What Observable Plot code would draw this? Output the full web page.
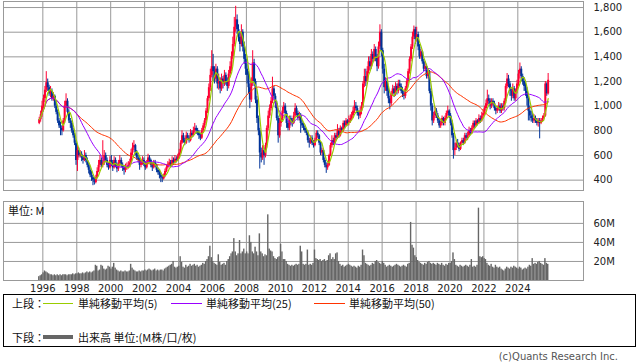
<!DOCTYPE html>
<html>
<head>
<meta charset="utf-8">
<script src="https://cdn.jsdelivr.net/npm/d3@7"></script>
<script src="https://cdn.jsdelivr.net/npm/@observablehq/plot@0.6"></script>
<style>
  html, body { margin: 0; padding: 0; background: #fff; }
  #wrap { position: relative; width: 638px; height: 362px; overflow: hidden; font-family: "DejaVu Sans", sans-serif; }
  #wrap svg { display: block; }
  #volBox { margin-top: 3px; }
  .abs { position: absolute; }
  .jp { font-family: "Noto Sans CJK JP", "DejaVu Sans", sans-serif; font-size: 11px; line-height: 14px; color: #111; white-space: nowrap; }
</style>
</head>
<body>
<div id="wrap">
  <div id="priceBox"></div>
  <div id="volBox"></div>
  <div class="abs jp" style="left:8px;top:203px;">単位: M</div>
  <div class="abs" style="left:3px;top:294px;width:633px;height:53px;border:1px solid #000;box-sizing:border-box;"></div>
  <div class="abs jp" style="left:12px;top:296px;">上段：</div>
  <div class="abs" style="left:43px;top:303px;width:30px;height:1px;background:#99cc00;"></div>
  <div class="abs jp" style="left:78px;top:296px;">単純移動平均(5)</div>
  <div class="abs" style="left:171px;top:303px;width:31px;height:1px;background:#9900ff;"></div>
  <div class="abs jp" style="left:206px;top:296px;">単純移動平均(25)</div>
  <div class="abs" style="left:314px;top:303px;width:31px;height:1px;background:#ff3300;"></div>
  <div class="abs jp" style="left:349px;top:296px;">単純移動平均(50)</div>
  <div class="abs jp" style="left:12px;top:330px;">下段：</div>
  <div class="abs" style="left:43px;top:335px;width:30px;height:4px;background:#666;"></div>
  <div class="abs jp" style="left:78px;top:330px;">出来高 単位:(M株/口/枚)</div>
  <div class="abs" style="right:20px;top:351px;font-size:10px;color:#555;font-family:'DejaVu Sans',sans-serif;">(c)Quants Research Inc.</div>
</div>
<script>
// Monthly candles, Oct 1995 .. Oct 2025
const firstYear = 1995, firstMonth = 9; // October (0-based)

const open = [
  860, 890, 930,
  1000, 1060, 1130, 1190, 1150, 1100, 1120, 1060, 1080, 1000, 950, 880,
  840, 820, 800, 880, 1000, 1040, 950, 880, 860, 800, 760, 700,
  560, 640, 600, 610, 580, 560, 600, 560, 520, 480, 440, 420,
  400, 380, 420, 470, 520, 560, 520, 540, 600, 560, 520, 500,
  560, 540, 500, 560, 520, 490, 530, 560, 520, 500, 480, 500,
  510, 520, 540, 620, 660, 680, 620, 580, 560, 520, 540, 560,
  530, 500, 540, 580, 560, 520, 500, 540, 520, 480, 460, 440,
  420, 410, 430, 470, 500, 520, 540, 520, 560, 540, 570, 560,
  590, 620, 700, 760, 720, 700, 760, 740, 720, 780, 760, 800,
  820, 800, 780, 760, 740, 800, 840, 880, 960, 1060, 1150, 1250,
  1320, 1280, 1220, 1300, 1180, 1200, 1140, 1220, 1180, 1250, 1200, 1160,
  1260, 1320, 1400, 1500, 1640, 1700, 1620, 1560, 1500, 1600, 1480, 1380,
  1300, 1250, 1150, 1050, 1200, 1350, 1200, 1050, 900, 800, 620, 580,
  640, 600, 680, 820, 920, 980, 1040, 1140, 1080, 1020, 900, 760,
  860, 900, 960, 1000, 940, 860, 820, 900, 880, 860, 920, 980,
  940, 900, 920, 860, 840, 820, 800, 780, 720, 700, 740, 700,
  680, 720, 780, 760, 700, 620, 640, 560, 520, 500, 520, 600,
  680, 720, 700, 760, 740, 800, 760, 820, 800, 860, 840, 880,
  860, 880, 900, 920, 960, 1000, 980, 940, 920, 960, 1000, 1180,
  1240, 1200, 1280, 1360, 1320, 1420, 1380, 1460, 1400, 1320, 1480, 1600,
  1450, 1300, 1150, 1200, 1120, 1060, 1020, 1100, 1140, 1100, 1160, 1120,
  1180, 1160, 1120, 1100, 1080, 1140, 1200, 1280, 1380, 1480, 1560, 1620,
  1540, 1580, 1480, 1400, 1440, 1360, 1300, 1320, 1240, 1280, 1120, 1000,
  880, 920, 960, 920, 880, 840, 860, 900, 860, 900, 940, 960,
  920, 860, 760, 640, 660, 700, 680, 650, 700, 720, 700, 760,
  740, 760, 800, 780, 820, 860, 840, 880, 860, 900, 880, 920,
  940, 980, 1020, 1060, 1040, 1000, 1040, 1020, 980, 960, 980, 1000,
  960, 1000, 980, 1040, 1160, 1220, 1180, 1120, 1080, 1140, 1060, 1120,
  1180, 1260, 1300, 1240, 1200, 1160, 1120, 1060, 960, 920, 900, 880,
  900, 880, 860, 880, 860, 880, 900, 920, 1180, 1100
];
const high = [
  910, 960, 1040,
  1090, 1160, 1280, 1220, 1170, 1160, 1140, 1110, 1090, 1020, 970, 900,
  870, 840, 900, 1040, 1100, 1060, 970, 900, 880, 820, 780, 720,
  680, 660, 640, 630, 600, 640, 620, 580, 540, 500, 470, 440,
  420, 440, 500, 560, 600, 580, 720, 640, 620, 580, 540, 590,
  600, 560, 590, 580, 540, 560, 600, 580, 540, 520, 530, 540,
  550, 570, 650, 700, 720, 690, 640, 600, 580, 570, 590, 580,
  550, 560, 610, 600, 570, 540, 560, 560, 530, 500, 480, 460,
  440, 450, 490, 520, 550, 570, 560, 590, 580, 600, 590, 610,
  650, 720, 800, 780, 740, 790, 780, 760, 810, 800, 830, 860,
  840, 820, 800, 780, 820, 860, 900, 980, 1080, 1180, 1300, 1450,
  1420, 1320, 1340, 1320, 1260, 1230, 1260, 1240, 1290, 1270, 1230, 1290,
  1360, 1440, 1560, 1720, 1810, 1740, 1660, 1600, 1660, 1620, 1520, 1420,
  1340, 1280, 1180, 1230, 1450, 1380, 1220, 1080, 920, 820, 660, 680,
  660, 700, 840, 960, 1010, 1070, 1235, 1160, 1100, 1040, 920, 900,
  940, 990, 1030, 1020, 960, 880, 920, 920, 900, 950, 1020, 1000,
  960, 950, 940, 880, 860, 840, 820, 800, 740, 760, 760, 720,
  740, 800, 800, 770, 710, 660, 650, 580, 540, 540, 610, 700,
  760, 740, 780, 780, 850, 820, 840, 830, 880, 880, 900, 890,
  920, 930, 950, 990, 1045, 1030, 1000, 960, 990, 1030, 1200, 1300,
  1300, 1320, 1400, 1400, 1460, 1440, 1500, 1480, 1420, 1520, 1660, 1620,
  1470, 1340, 1230, 1220, 1150, 1080, 1120, 1170, 1160, 1190, 1180, 1210,
  1210, 1180, 1150, 1120, 1160, 1220, 1300, 1400, 1500, 1600, 1650, 1640,
  1640, 1600, 1500, 1460, 1450, 1380, 1360, 1340, 1300, 1290, 1140, 1020,
  950, 990, 980, 940, 900, 880, 920, 910, 920, 960, 1000, 970,
  940, 880, 780, 700, 720, 730, 700, 710, 740, 740, 780, 780,
  790, 830, 820, 840, 880, 880, 900, 890, 930, 920, 950, 970,
  1000, 1050, 1130, 1090, 1060, 1060, 1060, 1040, 1000, 1000, 1030, 1020,
  1020, 1020, 1060, 1180, 1265, 1250, 1200, 1140, 1180, 1160, 1140, 1210,
  1290, 1350, 1320, 1260, 1230, 1190, 1150, 1080, 1000, 960, 940, 930,
  920, 900, 900, 900, 900, 920, 940, 1200, 1190, 1265
];
const low = [
  850, 870, 910,
  980, 1030, 1110, 1120, 1080, 1070, 1040, 1040, 980, 930, 860, 820,
  760, 760, 790, 860, 980, 930, 860, 820, 780, 740, 680, 520,
  470, 580, 580, 550, 530, 550, 540, 500, 450, 420, 390, 355,
  360, 370, 410, 460, 500, 500, 500, 520, 540, 500, 480, 490,
  510, 470, 490, 500, 460, 470, 510, 500, 470, 440, 460, 480,
  490, 500, 530, 600, 640, 600, 560, 540, 480, 500, 520, 510,
  480, 490, 530, 540, 500, 470, 490, 500, 460, 440, 410, 380,
  380, 400, 420, 460, 490, 510, 500, 510, 520, 530, 540, 550,
  580, 610, 690, 700, 680, 690, 720, 700, 710, 740, 750, 780,
  770, 760, 730, 720, 730, 780, 820, 860, 940, 1040, 1120, 1230,
  1200, 1180, 1200, 1140, 1130, 1100, 1120, 1140, 1160, 1170, 1120, 1140,
  1230, 1280, 1380, 1480, 1600, 1580, 1520, 1440, 1480, 1440, 1340, 1250,
  1180, 1100, 980, 1030, 1160, 1160, 1020, 860, 760, 490, 540, 560,
  520, 580, 660, 800, 900, 960, 1020, 1060, 980, 880, 700, 740,
  830, 880, 940, 920, 820, 800, 800, 840, 830, 850, 910, 920,
  880, 880, 780, 820, 800, 780, 760, 700, 660, 690, 680, 660,
  670, 710, 740, 680, 600, 600, 540, 500, 455, 480, 510, 590,
  660, 680, 690, 720, 730, 740, 750, 780, 790, 820, 830, 840,
  840, 860, 880, 900, 940, 960, 920, 890, 900, 930, 980, 1150,
  1160, 1180, 1260, 1290, 1300, 1350, 1360, 1360, 1280, 1300, 1460, 1400,
  1260, 1100, 1120, 1080, 1020, 970, 1000, 1080, 1070, 1080, 1090, 1100,
  1130, 1100, 1070, 1050, 1060, 1120, 1180, 1260, 1360, 1460, 1540, 1500,
  1520, 1450, 1380, 1380, 1340, 1280, 1280, 1220, 1220, 1100, 960, 840,
  860, 900, 900, 860, 820, 820, 840, 840, 840, 890, 920, 900,
  840, 740, 570, 600, 640, 660, 630, 640, 690, 680, 690, 720,
  720, 750, 760, 770, 810, 820, 830, 840, 850, 860, 870, 900,
  920, 960, 1000, 1010, 970, 980, 1000, 960, 930, 940, 960, 940,
  940, 960, 960, 1020, 1140, 1150, 1080, 1040, 1060, 1040, 1040, 1100,
  1160, 1220, 1200, 1170, 1120, 1080, 1000, 880, 880, 870, 860, 860,
  860, 840, 830, 735, 850, 870, 890, 910, 1080, 1090
];
const close = [
  890, 930, 1000,
  1060, 1130, 1190, 1150, 1100, 1120, 1060, 1080, 1000, 950, 880, 840,
  820, 800, 880, 1000, 1040, 950, 880, 860, 800, 760, 700, 560,
  640, 600, 610, 580, 560, 600, 560, 520, 480, 440, 420, 400,
  380, 420, 470, 520, 560, 520, 540, 600, 560, 520, 500, 560,
  540, 500, 560, 520, 490, 530, 560, 520, 500, 480, 500, 510,
  520, 540, 620, 660, 680, 620, 580, 560, 520, 540, 560, 530,
  500, 540, 580, 560, 520, 500, 540, 520, 480, 460, 440, 420,
  410, 430, 470, 500, 520, 540, 520, 560, 540, 570, 560, 590,
  620, 700, 760, 720, 700, 760, 740, 720, 780, 760, 800, 820,
  800, 780, 760, 740, 800, 840, 880, 960, 1060, 1150, 1250, 1320,
  1280, 1220, 1300, 1180, 1200, 1140, 1220, 1180, 1250, 1200, 1160, 1260,
  1320, 1400, 1500, 1640, 1700, 1620, 1560, 1500, 1600, 1480, 1380, 1300,
  1250, 1150, 1050, 1200, 1350, 1200, 1050, 900, 800, 620, 580, 640,
  600, 680, 820, 920, 980, 1040, 1140, 1080, 1020, 900, 760, 860,
  900, 960, 1000, 940, 860, 820, 900, 880, 860, 920, 980, 940,
  900, 920, 860, 840, 820, 800, 780, 720, 700, 740, 700, 680,
  720, 780, 760, 700, 620, 640, 560, 520, 500, 520, 600, 680,
  720, 700, 760, 740, 800, 760, 820, 800, 860, 840, 880, 860,
  880, 900, 920, 960, 1000, 980, 940, 920, 960, 1000, 1180, 1240,
  1200, 1280, 1360, 1320, 1420, 1380, 1460, 1400, 1320, 1480, 1600, 1450,
  1300, 1150, 1200, 1120, 1060, 1020, 1100, 1140, 1100, 1160, 1120, 1180,
  1160, 1120, 1100, 1080, 1140, 1200, 1280, 1380, 1480, 1560, 1620, 1540,
  1580, 1480, 1400, 1440, 1360, 1300, 1320, 1240, 1280, 1120, 1000, 880,
  920, 960, 920, 880, 840, 860, 900, 860, 900, 940, 960, 920,
  860, 760, 640, 660, 700, 680, 650, 700, 720, 700, 760, 740,
  760, 800, 780, 820, 860, 840, 880, 860, 900, 880, 920, 940,
  980, 1020, 1060, 1040, 1000, 1040, 1020, 980, 960, 980, 1000, 960,
  1000, 980, 1040, 1160, 1220, 1180, 1120, 1080, 1140, 1060, 1120, 1180,
  1260, 1300, 1240, 1200, 1160, 1120, 1060, 960, 920, 900, 880, 900,
  880, 860, 880, 860, 880, 900, 920, 1180, 1100, 1210
];
// volume in millions
const volume = [
  4, 5, 6,
  8, 10, 9, 8, 7, 6, 6, 5, 6, 5, 6, 5,
  6, 5, 6, 6, 6, 5, 6, 6, 6, 7, 6, 7,
  7, 8, 7, 7, 8, 7, 8, 9, 8, 9, 8, 9,
  10, 16, 15, 10, 11, 16, 15, 12, 11, 12, 15, 14,
  12, 14, 18, 13, 11, 10, 9, 10, 9, 9, 10, 9,
  9, 10, 17, 13, 11, 10, 9, 9, 10, 9, 10, 10,
  11, 10, 11, 12, 11, 10, 11, 12, 10, 11, 10, 11,
  11, 10, 12, 13, 14, 15, 16, 17, 20, 14, 13, 14,
  15, 25, 19, 14, 13, 16, 14, 15, 17, 15, 16, 17,
  15, 16, 14, 15, 16, 18, 17, 20, 22, 25, 36, 24,
  20, 18, 17, 16, 27, 19, 16, 17, 18, 16, 20, 22,
  25, 28, 30, 44, 30, 26, 28, 42, 28, 30, 33, 28,
  30, 28, 47, 40, 30, 28, 35, 30, 26, 49, 30, 28,
  25, 27, 26, 69, 33, 31, 30, 25, 23, 22, 24, 25,
  38, 30, 22, 22, 20, 17, 16, 15, 16, 15, 16, 17,
  16, 17, 36, 30, 17, 16, 17, 32, 16, 17, 16, 18,
  32, 23, 22, 21, 22, 20, 21, 22, 20, 21, 26, 28,
  22, 24, 22, 28, 29, 20, 17, 15, 16, 14, 15, 16,
  17, 16, 15, 14, 15, 14, 13, 15, 14, 16, 32, 26,
  18, 17, 16, 15, 16, 18, 17, 20, 21, 19, 18, 17,
  20, 18, 16, 14, 15, 16, 15, 14, 15, 16, 17, 16,
  15, 14, 15, 16, 15, 14, 17, 18, 61, 37, 34, 26,
  24, 21, 19, 18, 17, 16, 18, 17, 19, 20, 18, 17,
  18, 17, 16, 18, 17, 16, 18, 16, 15, 17, 16, 18,
  18, 20, 29, 22, 16, 15, 14, 16, 15, 14, 15, 16,
  15, 14, 16, 22, 14, 15, 14, 16, 76, 25, 24, 25,
  23, 22, 18, 16, 15, 17, 14, 13, 16, 14, 13, 14,
  12, 11, 10, 12, 14, 13, 12, 14, 13, 15, 14, 13,
  12, 14, 13, 11, 12, 13, 12, 14, 16, 15, 23, 17,
  18, 17, 19, 20, 18, 17, 16, 23, 18, 17
];
const yearTicks = [1996, 1998, 2000, 2002, 2004, 2006, 2008, 2010, 2012, 2014, 2016, 2018, 2020, 2022, 2024];
const priceTicks = [400, 600, 800, 1000, 1200, 1400, 1600, 1800];
const volumeTicks = [20, 40, 60];

const UP = "#ff0033", DOWN = "#003399";
const data = close.map((c, i) => ({
  date: new Date(Date.UTC(firstYear, firstMonth + i, 15)),
  open: open[i], high: high[i], low: low[i], close: c, volume: volume[i]
}));

const xDomain = [new Date(Date.UTC(1993, 8, 6)), new Date(Date.UTC(2027, 10, 15))];
const xTicks = yearTicks.map(y => new Date(Date.UTC(y, 0, 1)));
const common = {
  width: 638,
  marginLeft: 3,
  marginRight: 55,
  style: {fontFamily: "DejaVu Sans, sans-serif", fontSize: "10px", color: "#222", background: "transparent"}
};

const candleColor = d => d.close >= d.open ? UP : DOWN;

const priceChart = Plot.plot({
  ...common,
  height: 192,
  marginTop: 1,
  marginBottom: 2,
  x: {type: "utc", domain: xDomain, axis: null},
  y: {domain: [316, 1849], axis: null},
  marks: [
    Plot.gridX(xTicks, {stroke: "#999", strokeOpacity: 1}),
    Plot.gridY(priceTicks, {stroke: "#999", strokeOpacity: 1}),
    Plot.ruleX(data, {x: "date", y1: "low", y2: "high", stroke: candleColor, strokeWidth: 1}),
    Plot.ruleX(data, {x: "date", y1: "open", y2: "close", stroke: candleColor, strokeWidth: 2}),
    Plot.lineY(data, Plot.windowY({k: 50, anchor: "end", reduce: "mean"}, {x: "date", y: "close", stroke: "#ff3300", strokeWidth: 1})),
    Plot.lineY(data, Plot.windowY({k: 25, anchor: "end", reduce: "mean"}, {x: "date", y: "close", stroke: "#9900ff", strokeWidth: 1})),
    Plot.lineY(data, Plot.windowY({k: 5, anchor: "end", reduce: "mean"}, {x: "date", y: "close", stroke: "#99cc00", strokeWidth: 1.2})),
    Plot.frame({stroke: "#999"}),
    Plot.axisY(priceTicks, {anchor: "right", tickFormat: d3.format(","), tickSize: 0, tickPadding: 10, label: null, fill: "#222"})
  ]
});
document.getElementById("priceBox").appendChild(priceChart);

const volChart = Plot.plot({
  ...common,
  height: 100,
  marginTop: 6,
  marginBottom: 15,
  x: {type: "utc", domain: xDomain, axis: null},
  y: {domain: [0, 83], axis: null},
  marks: [
    Plot.gridX(xTicks, {stroke: "#999", strokeOpacity: 1}),
    Plot.gridY(volumeTicks, {stroke: "#999", strokeOpacity: 1}),
    Plot.rectY(data, {x: "date", interval: d3.utcMonth, y: "volume", fill: "#666", inset: 0}),
    Plot.frame({stroke: "#999"}),
    Plot.axisX(xTicks, {anchor: "bottom", tickFormat: d3.utcFormat("%Y"), tickSize: 0, tickPadding: 4, label: null, fill: "#222"}),
    Plot.axisY(volumeTicks, {anchor: "right", tickFormat: d => d + "M", tickSize: 0, tickPadding: 10, label: null, fill: "#222"})
  ]
});
document.getElementById("volBox").appendChild(volChart);
</script>
</body>
</html>
